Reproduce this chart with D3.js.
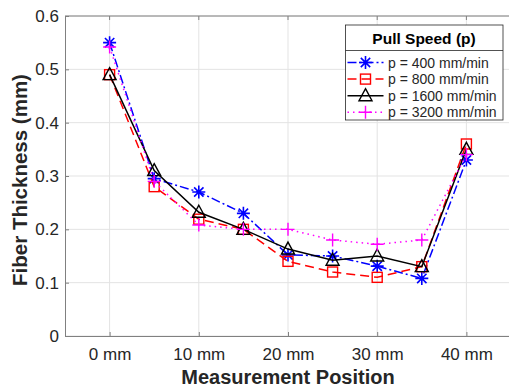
<!DOCTYPE html>
<html>
<head>
<meta charset="utf-8">
<script src="https://cdn.jsdelivr.net/npm/d3@7"></script>
<style>
  html, body { margin: 0; padding: 0; background: #fff; }
  svg { display: block; font-family: "Liberation Sans", Arial, Helvetica, sans-serif; }
</style>
</head>
<body>
<div id="chart"></div>
<script>
// data
const positions = [0, 5, 10, 15, 20, 25, 30, 35, 40];
const speeds = ["p = 400 mm/min", "p = 800 mm/min", "p = 1600 mm/min", "p = 3200 mm/min"];
const thick400 = [0.55, 0.295, 0.27, 0.23, 0.152, 0.15, 0.131, 0.108, 0.33];
const thick800 = [0.49, 0.28, 0.219, 0.20, 0.14, 0.12, 0.11, 0.13, 0.36];
const thick1600 = [0.49, 0.31, 0.232, 0.20, 0.163, 0.142, 0.15, 0.13, 0.35];
const thick3200 = [0.542, 0.29, 0.208, 0.20, 0.20, 0.18, 0.172, 0.18, 0.34];
const xTicks = [0, 10, 20, 30, 40];
const yTicks = [0, 0.1, 0.2, 0.3, 0.4, 0.5, 0.6];

const width = 509;
const height = 390;
const margin = { top: 16, right: -2, bottom: 54, left: 65 };

const series = [
  { name: speeds[0], values: thick400, color: "#0000ff", dash: "9,3,2,3", marker: "star" },
  { name: speeds[1], values: thick800, color: "#ff0000", dash: "9,5", marker: "square" },
  { name: speeds[2], values: thick1600, color: "#000000", dash: null, marker: "triangle" },
  { name: speeds[3], values: thick3200, color: "#ff00ff", dash: "1.5,4", marker: "plus" }
];

const x = d3.scaleLinear().domain([-5, 45]).range([margin.left, width - margin.right]);
const y = d3.scaleLinear().domain([0, 0.6]).range([height - margin.bottom, margin.top]);

const svg = d3.select("#chart")
  .append("svg")
  .attr("width", width)
  .attr("height", height);

// grid
svg.append("g")
  .attr("stroke", "#e3e3e3")
  .attr("stroke-width", 1)
  .selectAll("line.gx")
  .data(xTicks)
  .enter()
  .append("line")
  .attr("x1", d => x(d)).attr("x2", d => x(d))
  .attr("y1", y(0)).attr("y2", y(0.6));

svg.append("g")
  .attr("stroke", "#e3e3e3")
  .attr("stroke-width", 1)
  .selectAll("line.gy")
  .data(yTicks)
  .enter()
  .append("line")
  .attr("x1", x(-5)).attr("x2", x(45))
  .attr("y1", d => y(d)).attr("y2", d => y(d));

// axes
const xAxis = svg.append("g")
  .attr("transform", `translate(0,${y(0)})`)
  .call(d3.axisBottom(x).tickValues(xTicks).tickSize(-4).tickPadding(12).tickFormat(d => `${d} mm`));
const yAxis = svg.append("g")
  .attr("transform", `translate(${x(-5)},0)`)
  .call(d3.axisLeft(y).tickValues(yTicks).tickSize(-4).tickPadding(6).tickFormat(d => d === 0 ? "0" : d3.format(".1f")(d)));
[xAxis, yAxis].forEach(a => {
  a.select(".domain").attr("stroke", "#808080");
  a.selectAll(".tick line").attr("stroke", "#808080");
  a.selectAll(".tick text").attr("fill", "#262626").style("font-size", "17px");
});

// top border (box on)
svg.append("line")
  .attr("x1", x(-5)).attr("x2", x(45))
  .attr("y1", y(0.6)).attr("y2", y(0.6))
  .attr("stroke", "#808080");
svg.append("g")
  .attr("stroke", "#808080")
  .selectAll("line")
  .data(xTicks)
  .enter()
  .append("line")
  .attr("x1", d => x(d)).attr("x2", d => x(d))
  .attr("y1", y(0.6)).attr("y2", y(0.6) + 4);

// axis titles
svg.append("text")
  .attr("x", x(20))
  .attr("y", 384)
  .attr("text-anchor", "middle")
  .style("font-size", "20px")
  .style("font-weight", "bold")
  .attr("fill", "#262626")
  .text("Measurement Position");

svg.append("text")
  .attr("transform", `translate(27,${y(0.3) + 4}) rotate(-90)`)
  .attr("text-anchor", "middle")
  .style("font-size", "20.5px")
  .style("font-weight", "bold")
  .attr("fill", "#262626")
  .text("Fiber Thickness (mm)");

// markers
function drawMarker(g, type, color, cx, cy) {
  if (type === "star") {
    const r = 6.5;
    const d = r * 0.72;
    g.append("path")
      .attr("d", `M${cx - r},${cy}H${cx + r}M${cx},${cy - r}V${cy + r}M${cx - d},${cy - d}L${cx + d},${cy + d}M${cx - d},${cy + d}L${cx + d},${cy - d}`)
      .attr("stroke", color).attr("stroke-width", 1.6).attr("fill", "none");
  } else if (type === "square") {
    g.append("rect")
      .attr("x", cx - 5).attr("y", cy - 5).attr("width", 10).attr("height", 10)
      .attr("stroke", color).attr("stroke-width", 1.4).attr("fill", "none");
  } else if (type === "triangle") {
    g.append("path")
      .attr("d", `M${cx},${cy - 7}L${cx + 6.5},${cy + 5}L${cx - 6.5},${cy + 5}Z`)
      .attr("stroke", color).attr("stroke-width", 1.4).attr("fill", "none");
  } else if (type === "plus") {
    const r = 6.5;
    g.append("path")
      .attr("d", `M${cx - r},${cy}H${cx + r}M${cx},${cy - r}V${cy + r}`)
      .attr("stroke", color).attr("stroke-width", 1.4).attr("fill", "none");
  }
}

const lineGen = d3.line()
  .x((d, i) => x(positions[i]))
  .y(d => y(d));

series.forEach(s => {
  const g = svg.append("g");
  g.append("path")
    .attr("d", lineGen(s.values))
    .attr("fill", "none")
    .attr("stroke", s.color)
    .attr("stroke-width", 1.5)
    .attr("stroke-dasharray", s.dash);
  s.values.forEach((v, i) => drawMarker(g, s.marker, s.color, x(positions[i]), y(v)));
});

// legend
const lg = svg.append("g").attr("transform", "translate(345.5,25)");
lg.append("rect")
  .attr("width", 157.5).attr("height", 95)
  .attr("fill", "#fff").attr("stroke", "#262626").attr("stroke-width", 0.8);
lg.append("line")
  .attr("x1", 0).attr("x2", 157.5).attr("y1", 25.5).attr("y2", 25.5)
  .attr("stroke", "#262626").attr("stroke-width", 0.8);
lg.append("text")
  .attr("x", 78.5).attr("y", 18.5)
  .attr("text-anchor", "middle")
  .style("font-size", "15.5px")
  .style("font-weight", "bold")
  .attr("fill", "#000")
  .text("Pull Speed (p)");

series.forEach((s, i) => {
  const cy = 37.5 + i * 16.6;
  const row = lg.append("g");
  row.append("line")
    .attr("x1", 2).attr("x2", 38).attr("y1", cy).attr("y2", cy)
    .attr("stroke", s.color).attr("stroke-width", 1.5)
    .attr("stroke-dasharray", s.dash);
  drawMarker(row, s.marker, s.color, 20, cy);
  row.append("text")
    .attr("x", 42.5).attr("y", cy + 5)
    .style("font-size", "14px")
    .attr("fill", "#262626")
    .text(s.name);
});
</script>
</body>
</html>
